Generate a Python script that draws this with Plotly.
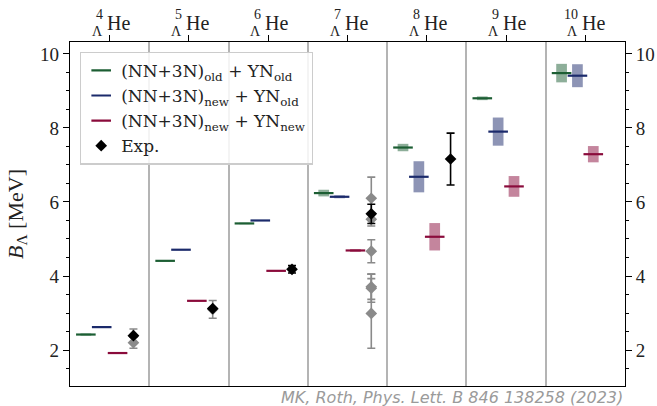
import plotly.graph_objects as go

# ---- data ----
mass_numbers = ["4", "5", "6", "7", "8", "9", "10"]
idx = list(range(len(mass_numbers)))

green_vals = [2.42, 4.41, 5.42, 6.24, 7.47, 8.80, 9.48]
green_err = [0.03, 0.02, 0.02, 0.09, 0.10, 0.05, 0.25]
blue_vals = [2.62, 4.71, 5.50, 6.14, 6.68, 7.90, 9.41]
blue_err = [0.01, 0.01, 0.01, 0.04, 0.42, 0.38, 0.31]
red_vals = [1.92, 3.33, 4.14, 4.69, 5.06, 6.42, 7.29]
red_err = [0.01, 0.01, 0.01, 0.04, 0.37, 0.28, 0.22]

exp_idx = [0, 1, 2, 3, 4]
exp_vals = [2.39, 3.12, 4.18, 5.68, 7.16]
exp_err = [0.02, 0.02, 0.10, 0.26, 0.70]

exp_gray_idx = [0, 0, 1, 3, 3, 3, 3, 3, 3]
exp_gray_vals = [2.39, 2.20, 3.10, 6.10, 5.53, 4.67, 3.71, 3.67, 2.99]
exp_gray_err = [0.18, 0.15, 0.24, 0.57, 0.18, 0.31, 0.34, 0.38, 0.94]

series_names = [
    "(NN+3N)<sub>old</sub> + YN<sub>old</sub>",
    "(NN+3N)<sub>new</sub> + YN<sub>old</sub>",
    "(NN+3N)<sub>new</sub> + YN<sub>new</sub>",
]

# ---- style ----
colors = ["#1c5e33", "#1b2a6b", "#8a0b3b"]
box_colors = ["rgba(28,94,51,0.5)", "rgba(27,42,107,0.5)", "rgba(138,11,59,0.5)"]
offsets = [-0.3, -0.1, 0.1]
exp_offset = 0.3
SERIF = "Liberation Serif"

fig = go.Figure()

series = [(green_vals, green_err), (blue_vals, blue_err), (red_vals, red_err)]

# uncertainty boxes
for k, (vals, errs) in enumerate(series):
    fig.add_trace(go.Bar(
        x=[i + offsets[k] for i in idx],
        y=[2 * e for e in errs],
        base=[v - e for v, e in zip(vals, errs)],
        width=0.135,
        marker=dict(color=box_colors[k], line=dict(width=0)),
        showlegend=False, hoverinfo="skip",
    ))

# central values
for k, (vals, errs) in enumerate(series):
    fig.add_trace(go.Scatter(
        x=[i + offsets[k] for i in idx], y=vals,
        mode="markers", name=series_names[k],
        marker=dict(symbol="line-ew", size=14,
                    line=dict(width=2.2, color=colors[k]), color=colors[k]),
    ))

# experiment (grey, other measurements)
fig.add_trace(go.Scatter(
    x=[i + exp_offset for i in exp_gray_idx], y=exp_gray_vals,
    mode="markers", showlegend=False,
    marker=dict(symbol="diamond", size=9, color="#8a8a8a"),
    error_y=dict(type="data", array=exp_gray_err, color="#8a8a8a",
                 thickness=1.6, width=4),
))
# experiment (black)
fig.add_trace(go.Scatter(
    x=[i + exp_offset for i in exp_idx], y=exp_vals,
    mode="markers", name="Exp.",
    marker=dict(symbol="diamond", size=9, color="black"),
    error_y=dict(type="data", array=exp_err, color="black",
                 thickness=1.6, width=4),
))

# invisible trace for secondary axes
fig.add_trace(go.Scatter(x=[0], y=[5], xaxis="x2", yaxis="y2",
                         mode="markers", marker=dict(opacity=0),
                         showlegend=False, hoverinfo="skip"))

yr = [1.03, 10.32]
xr = [-0.5, 6.5]
tickfont = dict(family=SERIF, size=19, color="#222")

fig.update_layout(
    width=657, height=406,
    margin=dict(l=70, r=32, t=42, b=20, autoexpand=False),
    plot_bgcolor="white", paper_bgcolor="white",
    barmode="overlay",
    xaxis=dict(range=xr, tickvals=[i + 0.5 for i in idx[:-1]], automargin=False,
               showticklabels=False, ticks="", showgrid=True,
               gridcolor="#b4b4b4", gridwidth=2, zeroline=False,
               showline=True, linecolor="black", linewidth=1.3, mirror=True),
    xaxis2=dict(range=xr, overlaying="x", side="top", anchor="y", automargin=False,
                tickvals=idx, ticktext=["" for _ in idx], ticks="outside",
                ticklen=6, tickwidth=1.3, tickcolor="black",
                showgrid=False, zeroline=False, showline=False),
    yaxis=dict(range=yr, tickvals=[2, 4, 6, 8, 10], ticks="outside", automargin=False,
               ticklen=6, tickwidth=1.3, tickcolor="black", tickfont=tickfont,
               minor=dict(dtick=0.5, ticks="outside", ticklen=3,
                          tickcolor="black", tickwidth=1),
               showgrid=False, zeroline=False,
               showline=True, linecolor="black", linewidth=1.3, mirror=True,
               title=dict(text="<i>B</i><sub>Λ</sub> [MeV]",
                          font=dict(family=SERIF, size=22, color="#222"),
                          standoff=10)),
    yaxis2=dict(range=yr, overlaying="y", side="right", anchor="x", automargin=False,
                tickvals=[2, 4, 6, 8, 10], ticks="outside",
                ticklen=6, tickwidth=1.3, tickcolor="black", tickfont=tickfont,
                minor=dict(dtick=0.5, ticks="outside", ticklen=3,
                           tickcolor="black", tickwidth=1),
                showgrid=False, zeroline=False, showline=False),
    legend=dict(x=0.018, y=0.972, xanchor="left", yanchor="top",
                bgcolor="rgba(255,255,255,0.85)", bordercolor="#cccccc",
                borderwidth=1.2, font=dict(family="DejaVu Serif", size=17, color="#222"),
                itemwidth=30, tracegroupgap=0),
)

annotations = []
for i, m in zip(idx, mass_numbers):
    annotations.append(dict(x=i, y=1, xref="x", yref="paper", text="He",
                            xanchor="left", yanchor="bottom", xshift=-5,
                            yshift=6, showarrow=False,
                            font=dict(family=SERIF, size=20, color="#222")))
    annotations.append(dict(x=i, y=1, xref="x", yref="paper", text=m,
                            xanchor="right", yanchor="bottom", xshift=-5,
                            yshift=18, showarrow=False,
                            font=dict(family=SERIF, size=14, color="#222")))
    annotations.append(dict(x=i, y=1, xref="x", yref="paper", text="Λ",
                            xanchor="right", yanchor="bottom", xshift=-5,
                            yshift=1, showarrow=False,
                            font=dict(family=SERIF, size=14, color="#222")))
annotations.append(dict(x=1, y=-0.032, xref="paper", yref="paper",
                        text="<i>MK, Roth, Phys. Lett. B 846 138258 (2023)</i>",
                        xanchor="right", yanchor="middle", showarrow=False,
                        font=dict(family="DejaVu Sans", size=16, color="#9a9a9a")))
fig.update_layout(annotations=annotations)

fig.write_html("out.html", config={"displayModeBar": False},
               post_script="document.body.style.margin='0';document.body.style.overflow='hidden';")
